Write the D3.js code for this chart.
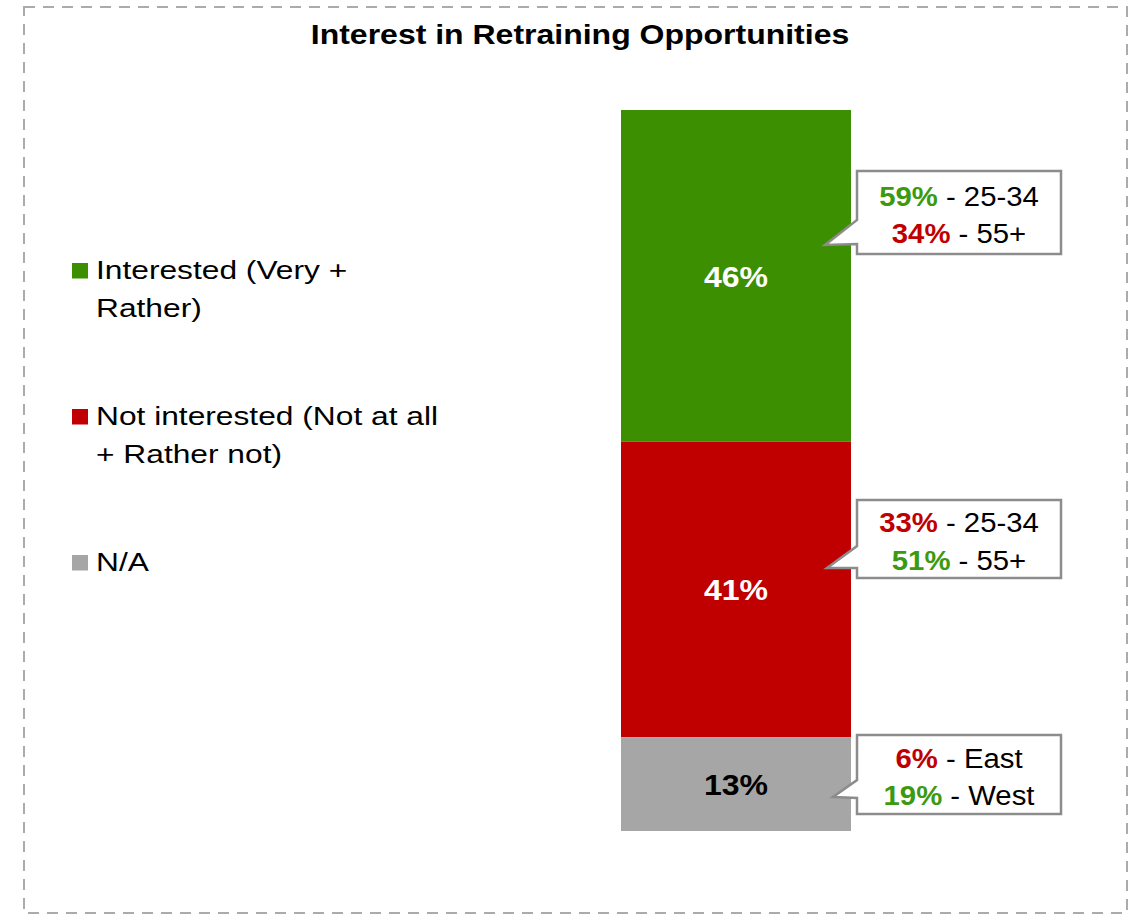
<!DOCTYPE html>
<html>
<head>
<meta charset="utf-8">
<script src="https://cdn.jsdelivr.net/npm/d3@7"></script>
<style>
  body { margin: 0; background: #fff; }
  svg { display: block; font-family: "Liberation Sans", Arial, sans-serif; }
</style>
</head>
<body>
<svg id="chart" width="1140" height="916"></svg>
<script>
// Survey result: interest in retraining opportunities
const categories = ["Interested", "Not interested", "N/A"];
const legendLines = [
  ["Interested (Very +", "Rather)"],
  ["Not interested (Not at all", "+ Rather not)"],
  ["N/A"]
];
const shares = [46, 41, 13];
const colors = ["#3C8F00", "#C00000", "#A6A6A6"];
const labelColors = ["#ffffff", "#ffffff", "#000000"];

// Breakdown callouts per segment: [value, group, tone]
const callouts = [
  [["59%", " - 25-34", "good"], ["34%", " - 55+", "bad"]],
  [["33%", " - 25-34", "bad"], ["51%", " - 55+", "good"]],
  [["6%", " - East", "bad"], ["19%", " - West", "good"]]
];
const toneColor = { good: "#3C9A0E", bad: "#C00000" };

const svg = d3.select("#chart");

// text placed at (x, y) and widened horizontally by factor s
function wideText(x, y, s) {
  return svg.append("text")
    .attr("transform", `translate(${x},${y}) scale(${s},1)`);
}

// dashed frame
svg.append("rect")
  .attr("x", 24).attr("y", 7).attr("width", 1103).attr("height", 906)
  .attr("fill", "none").attr("stroke", "#ABABAB").attr("stroke-width", 2)
  .attr("stroke-dasharray", "11,8");

wideText(580, 44, 1.185)
  .attr("text-anchor", "middle")
  .attr("font-size", 27).attr("font-weight", "bold")
  .text("Interest in Retraining Opportunities");

// stacked 100% column
const y = d3.scaleLinear().domain([0, 100]).range([110, 831]);
const x = d3.scaleBand().domain(["all"]).range([621, 851]).padding(0);

let acc = 0;
const segs = shares.map((v, i) => {
  const s = { i, v, y0: acc, y1: acc + v };
  acc += v;
  return s;
});

svg.selectAll("rect.seg").data(segs).enter().append("rect")
  .attr("class", "seg")
  .attr("x", x("all")).attr("width", x.bandwidth())
  .attr("y", d => y(d.y0)).attr("height", d => y(d.y1) - y(d.y0))
  .attr("fill", d => colors[d.i]);

segs.forEach(d => {
  wideText(x("all") + x.bandwidth() / 2, (y(d.y0) + y(d.y1)) / 2 + 11, 1.067)
    .attr("text-anchor", "middle")
    .attr("font-size", 30).attr("font-weight", "bold")
    .attr("fill", labelColors[d.i])
    .text(d.v + "%");
});

// callout boxes with a pointer towards the column
const boxes = [
  { top: 171, bottom: 254, w0: 220, w1: 244, tip: [825, 245] },
  { top: 500, bottom: 578, w0: 546, w1: 568, tip: [827, 568] },
  { top: 735, bottom: 814, w0: 780, w1: 798, tip: [833, 797] }
];
const bx0 = 857, bx1 = 1061;
boxes.forEach((b, i) => {
  const p = d3.path();
  p.moveTo(bx0, b.top);
  p.lineTo(bx1, b.top);
  p.lineTo(bx1, b.bottom);
  p.lineTo(bx0, b.bottom);
  p.lineTo(bx0, b.w1);
  p.lineTo(b.tip[0], b.tip[1]);
  p.lineTo(bx0, b.w0);
  p.closePath();
  svg.append("path").attr("d", p.toString())
    .attr("fill", "#fff").attr("stroke", "#8C8C8C").attr("stroke-width", 2.5);

  const mid = (b.top + b.bottom) / 2;
  callouts[i].forEach((line, j) => {
    const t = wideText((bx0 + bx1) / 2, mid - 7 + j * 37.5, 1.047)
      .attr("text-anchor", "middle")
      .attr("font-size", 28);
    t.append("tspan").attr("font-weight", "bold").attr("fill", toneColor[line[2]]).text(line[0]);
    t.append("tspan").attr("fill", "#000").text(line[1]);
  });
});

// legend
const legendBase = [279, 425, 571];
categories.forEach((c, i) => {
  svg.append("rect")
    .attr("x", 72).attr("y", legendBase[i] - 16).attr("width", 16).attr("height", 15.5)
    .attr("fill", colors[i]);
  legendLines[i].forEach((ln, j) => {
    wideText(96, legendBase[i] + j * 37.5, 1.22)
      .attr("font-size", 26).attr("fill", "#000")
      .text(ln);
  });
});
</script>
</body>
</html>
